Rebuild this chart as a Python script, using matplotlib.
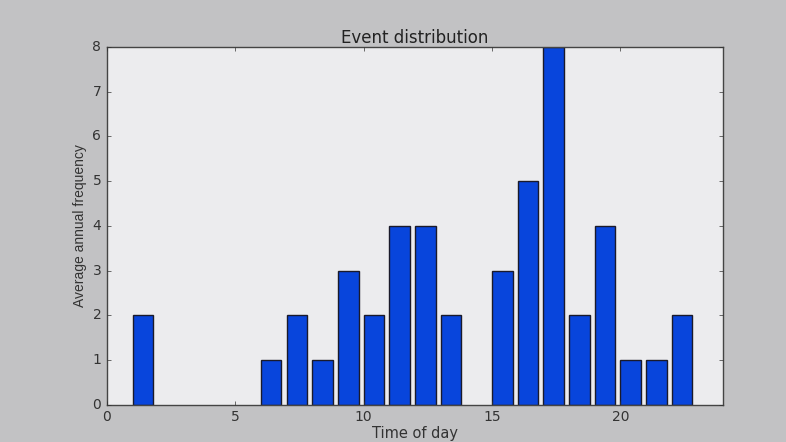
import matplotlib
matplotlib.use("Agg")
import matplotlib.pyplot as plt

hours = list(range(24))
freq = [0, 2, 0, 0, 0, 0, 1, 2, 1, 3, 2, 4, 4, 2, 0, 3, 5, 8, 2, 4, 1, 1, 2, 0]

plt.style.use("classic")
plt.rcParams["font.family"] = "DejaVu Sans"

fig = plt.figure(figsize=(7.86, 4.42), dpi=100, facecolor="#c2c2c4")
ax = fig.add_axes([0.136, 0.084, 0.784, 0.81])
ax.set_facecolor("#ececee")

# empty hours get no bar outline on the axis
xs = [h for h, f in zip(hours, freq) if f > 0]
ys = [f for f in freq if f > 0]
ax.bar(xs, ys, width=0.8, align="edge", color="#0845dc",
       edgecolor="#1a1a2a", linewidth=1.0)

ax.set_xlim(0, 24)
ax.set_ylim(0, 8)
ax.set_xticks([0, 5, 10, 15, 20])
ax.set_yticks(range(9))
ax.tick_params(labelsize=10, colors="#333333", length=3)
for s in ax.spines.values():
    s.set_color("#444444")

ax.set_title("Event distribution", fontsize=12, color="#222222", pad=3)
ax.set_xlabel("Time of day", fontsize=10.5, color="#333333", labelpad=1)
ax.set_ylabel("Average annual frequency", fontsize=10, color="#333333",
              family="Liberation Sans", labelpad=4)

fig.savefig("out.png", dpi=100, facecolor=fig.get_facecolor())
